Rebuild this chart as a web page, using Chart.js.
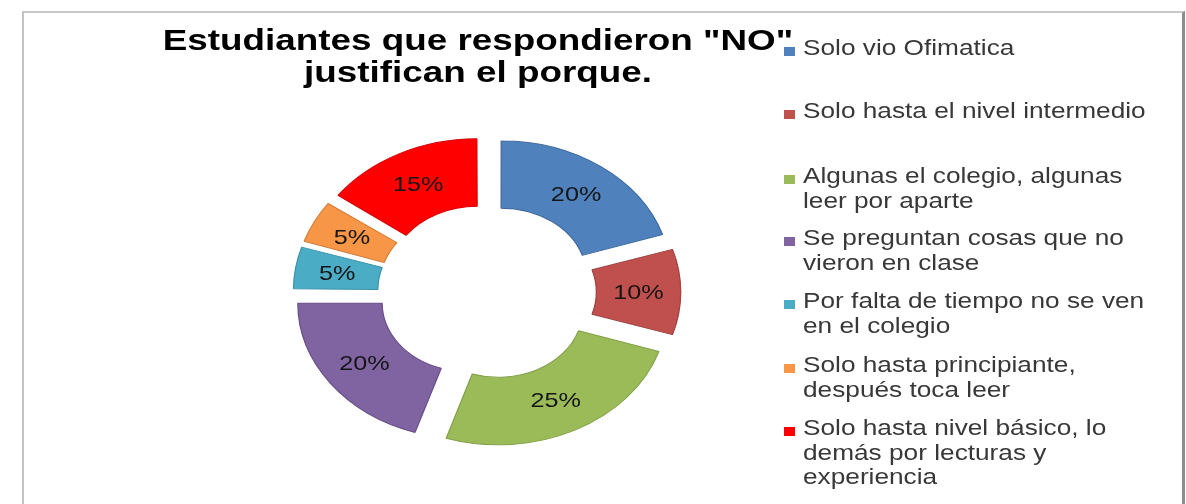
<!DOCTYPE html>
<html>
<head>
<meta charset="utf-8">
<script src="https://cdn.jsdelivr.net/npm/chart.js@4/dist/chart.umd.min.js"></script>
<style>
  html, body { margin: 0; padding: 0; background: #fff; }
  body { width: 1186px; height: 504px; position: relative; overflow: hidden;
         font-family: "Liberation Sans", Arial, sans-serif; }
  #frame { position: absolute; left: 22px; top: 11px; width: 1163px; height: 520px;
           border-top: 2px solid #c8c8c8; border-left: 2px solid #c2c2c2; border-right: 3px solid #8e8e8e;
           box-sizing: border-box; }
  #chart { position: absolute; left: 0; top: 0; }
  #title { position: absolute; left: 128px; top: 24px; width: 700px; text-align: center;
           font-weight: bold; font-size: 29px; line-height: 32px; color: #000;
           transform: scaleX(1.27); transform-origin: 350px 0; }
  .lg-mark { position: absolute; left: 784px; width: 11px; height: 9px; }
  .lg-text { position: absolute; left: 803px; font-size: 21.5px; line-height: 24.5px; color: #383838;
             white-space: pre-line; transform: scaleX(1.22); transform-origin: 0 0; }
</style>
</head>
<body>
<div id="frame"></div>
<canvas id="chart" width="1186" height="504"></canvas>
<div id="title"></div>
<div id="legend"></div>
<script>
// ---- data ----
const titleLines = ['Estudiantes que respondieron "NO"', 'justifican el porque.'];
const categories = [
  'Solo vio Ofimatica',
  'Solo hasta el nivel intermedio',
  'Algunas el colegio, algunas\nleer por aparte',
  'Se preguntan cosas que no\nvieron en clase',
  'Por falta de tiempo no se ven\nen el colegio',
  'Solo hasta principiante,\ndespués toca leer',
  'Solo hasta nivel básico, lo\ndemás por lecturas y\nexperiencia'
];
const percentages = [20, 10, 25, 20, 5, 5, 15];
const sliceColors = ['#4F81BD', '#C0504D', '#9BBB59', '#8064A2', '#4BACC6', '#F79646', '#FF0000'];
const sliceEdges  = ['#3f6a9e', '#a04340', '#82a048', '#684f88', '#3a93ab', '#d67d38', '#d80000'];

// ---- style constants ----
const SX = 1.25;          // horizontal stretch of the picture
const EXPLODE = 20;       // wanted explosion distance in px
const legendTops = [36, 99, 164, 226, 289, 353, 416];

// title & legend (real text)
document.getElementById('title').innerHTML = titleLines.map(t => t.replace(/&/g,'&amp;').replace(/</g,'&lt;')).join('<br>');
const lg = document.getElementById('legend');
categories.forEach((c, i) => {
  const m = document.createElement('div');
  m.className = 'lg-mark';
  m.style.top = (legendTops[i] + 11) + 'px';
  m.style.background = sliceColors[i];
  lg.appendChild(m);
  const t = document.createElement('div');
  t.className = 'lg-text';
  t.style.top = legendTops[i] + 'px';
  t.textContent = c;
  lg.appendChild(t);
});

// Chart.js v4 arc moves by offset/4 * (2 - sin(min(PI, circumference))); invert so every slice moves EXPLODE px
function explodeOffset(ctx) {
  const ds = ctx.chart.data.datasets[0].data;
  const total = ds.reduce((a, b) => a + b, 0);
  const circ = ds[ctx.dataIndex] / total * Math.PI * 2;
  return 4 * EXPLODE / (2 - Math.sin(Math.min(Math.PI, circ)));
}

const stretchPlugin = {
  id: 'stretch',
  beforeDatasetsDraw(chart) {
    const el = chart.getDatasetMeta(0).data[0];
    const ctx = chart.ctx;
    ctx.save();
    ctx.translate(el.x, el.y);
    ctx.scale(SX, 1);
    ctx.translate(-el.x, -el.y);
  },
  afterDatasetsDraw(chart) {
    const ctx = chart.ctx;
    ctx.restore();
    const meta = chart.getDatasetMeta(0);
    const vals = chart.data.datasets[0].data;
    ctx.save();
    ctx.fillStyle = '#151515';
    ctx.font = '21px "Liberation Sans", Arial, sans-serif';
    ctx.textAlign = 'center';
    ctx.textBaseline = 'middle';
    meta.data.forEach((arc, i) => {
      const p = arc.getProps(['x', 'y', 'startAngle', 'endAngle', 'innerRadius', 'outerRadius']);
      const mid = (p.startAngle + p.endAngle) / 2;
      const r = (p.innerRadius + p.outerRadius) / 2 + EXPLODE;
      const px = p.x + Math.cos(mid) * r * SX;
      const py = p.y + Math.sin(mid) * r;
      ctx.save();
      ctx.translate(px, py);
      ctx.scale(1.2, 1);
      ctx.fillText(vals[i] + '%', 0, 1);
      ctx.restore();
    });
    ctx.restore();
  }
};

new Chart(document.getElementById('chart'), {
  type: 'doughnut',
  data: {
    labels: categories.map(c => c.replace(/\n/g, ' ')),
    datasets: [{
      data: percentages,
      backgroundColor: sliceColors,
      borderColor: sliceEdges,
      borderWidth: 1,
      offset: explodeOffset,
      hoverOffset: 0,
      radius: 135,
      cutout: '50%',
      clip: false
    }]
  },
  options: {
    responsive: false,
    animation: false,
    events: [],
    layout: { padding: { left: 0, right: 212, top: 80, bottom: 0 } },
    plugins: { legend: { display: false }, title: { display: false }, tooltip: { enabled: false } }
  },
  plugins: [stretchPlugin]
});
</script>
</body>
</html>
